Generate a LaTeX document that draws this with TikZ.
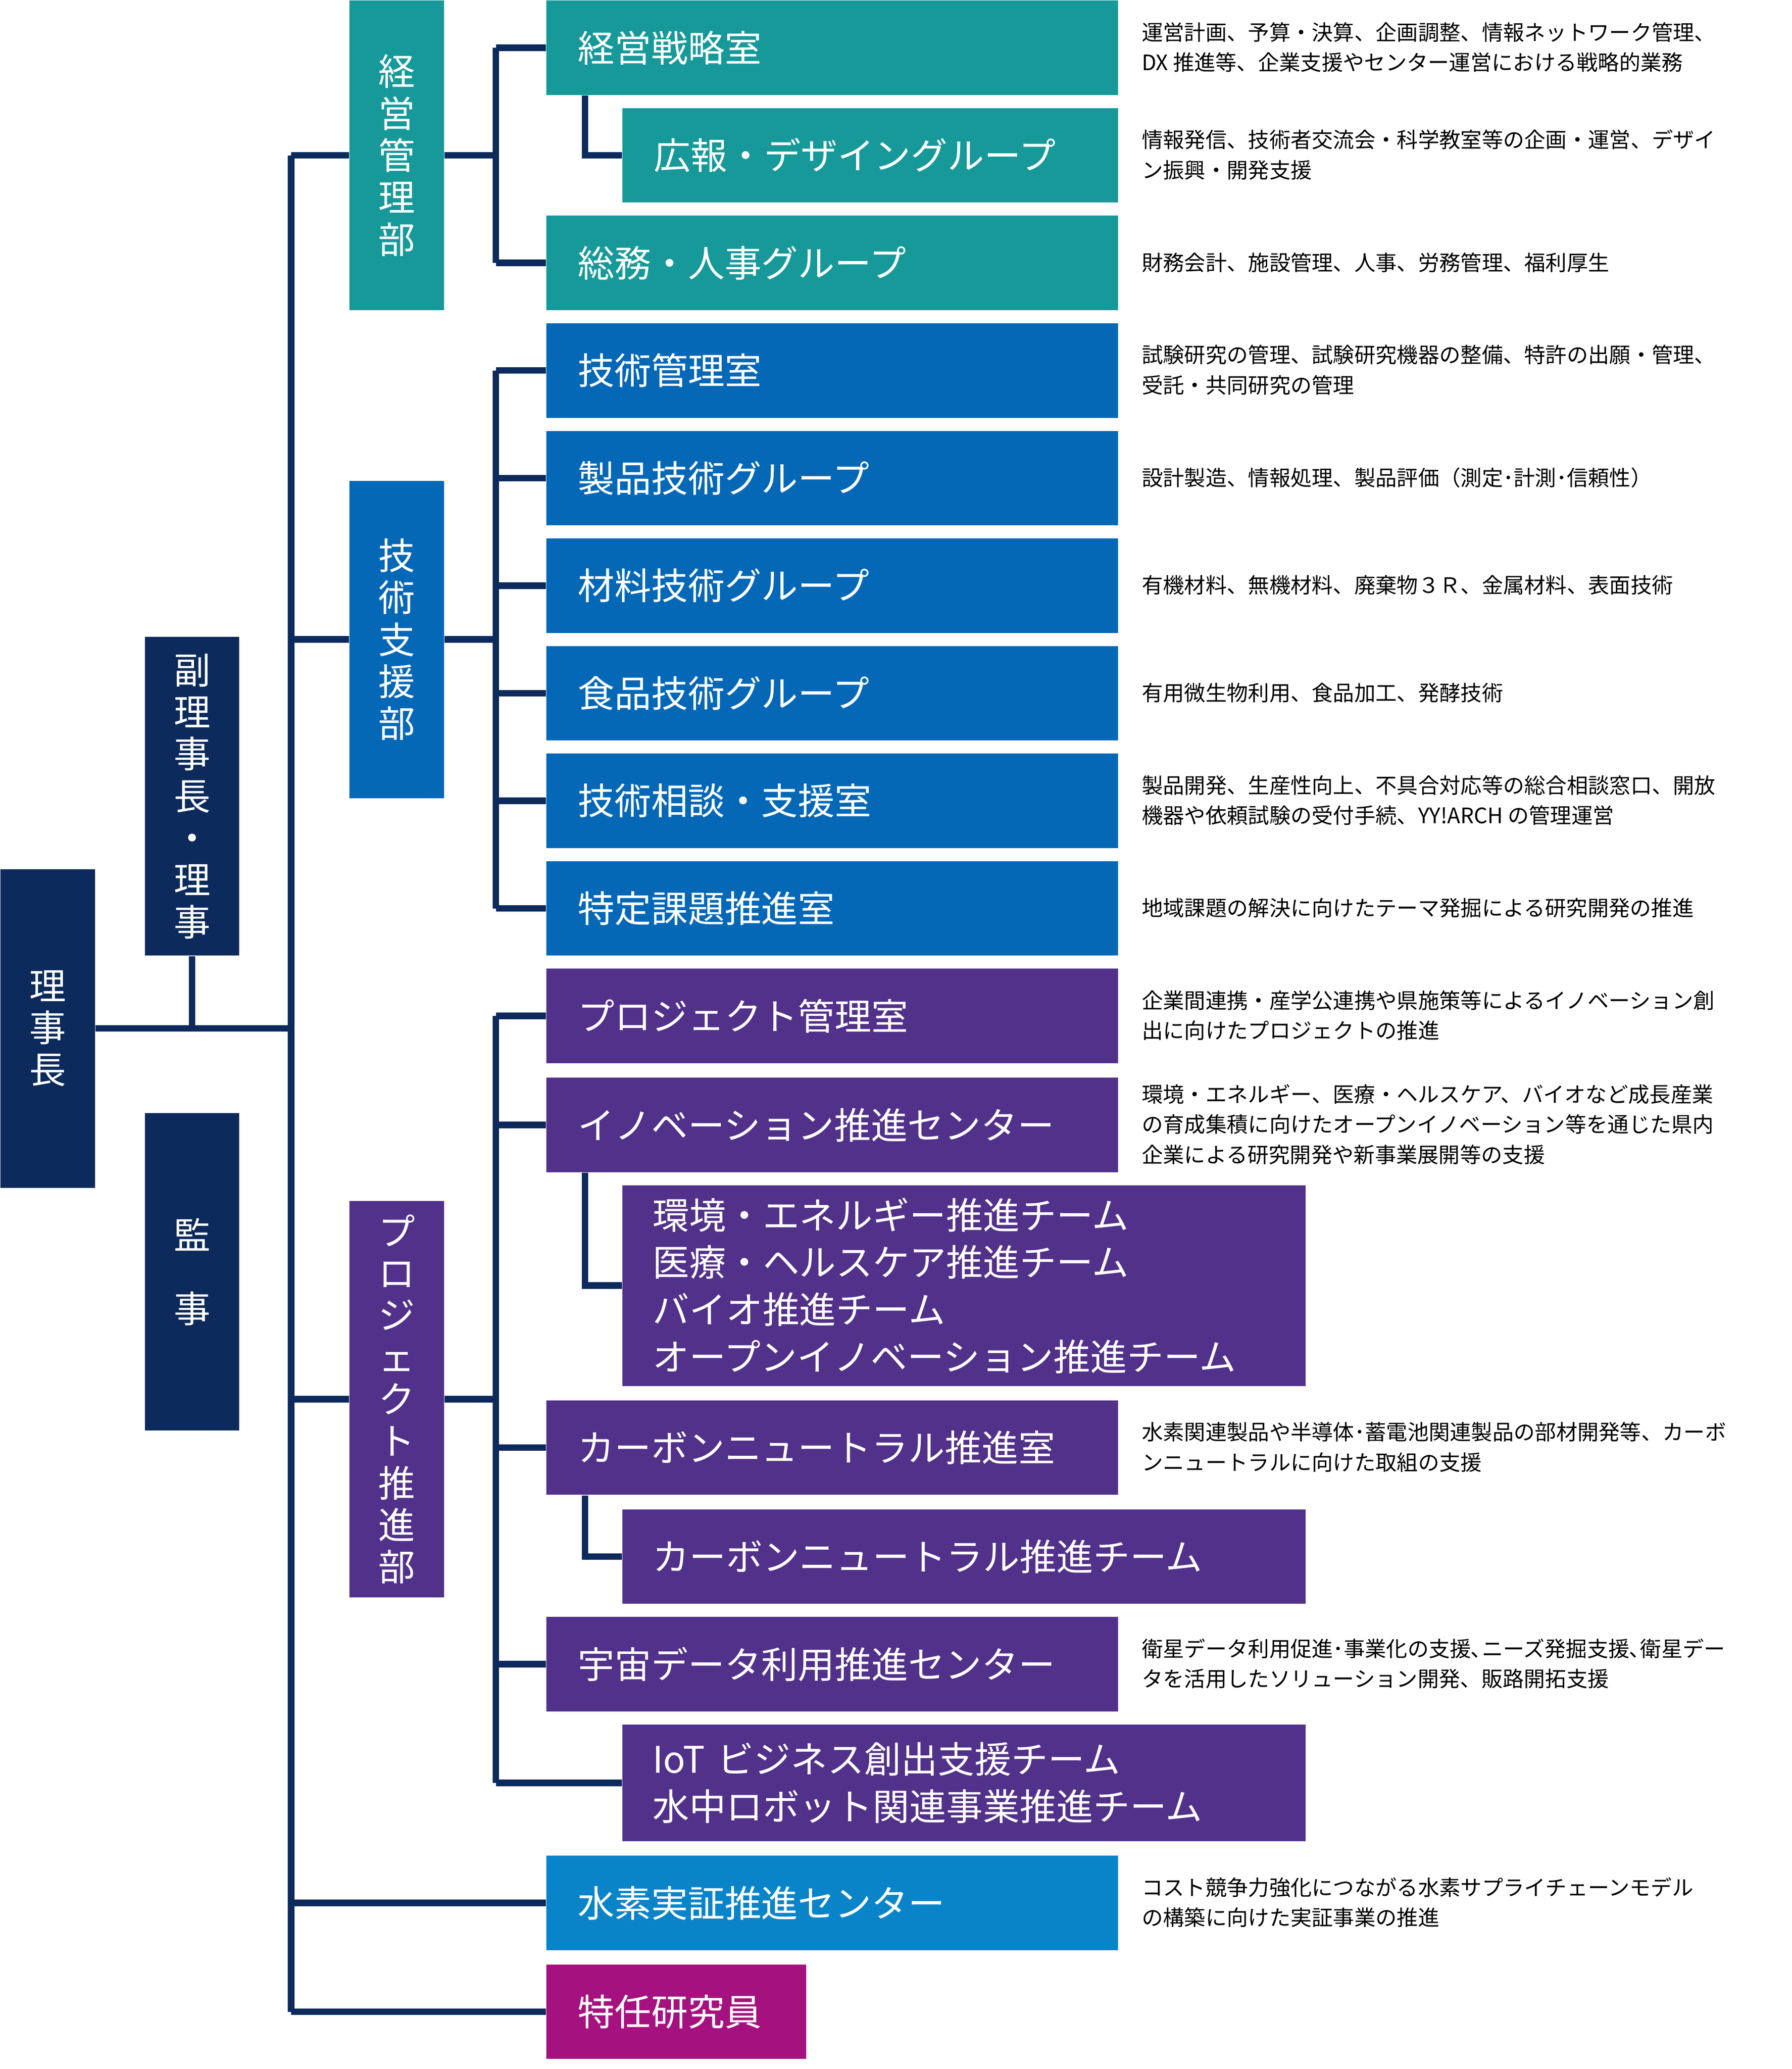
\documentclass[tikz,border=0pt]{standalone}
\usepackage{fontspec}
\setmainfont{Noto Sans CJK JP}
\definecolor{navy}{HTML}{0C2A5B}
\definecolor{teal}{HTML}{17999A}
\definecolor{tblue}{HTML}{0568B7}
\definecolor{ppl}{HTML}{52318B}
\definecolor{lblue}{HTML}{0A84C9}
\definecolor{mag}{HTML}{A5127F}
\tikzset{
  conn/.style={navy, line width=2.5pt},
  head/.style={fill=navy, text=white, minimum width=36pt, inner sep=0pt,
    anchor=north west, align=center, font=\fontsize{14}{16}\selectfont},
  box/.style={text=white, anchor=north west, minimum height=36pt, inner xsep=12pt,
    inner ysep=0pt, align=left, text width=194pt, font=\fontsize{14}{18}\selectfont},
  sub/.style={box, text width=165pt},
  team/.style={box, text width=237.5pt, inner xsep=11.5pt},
  desc/.style={anchor=west, inner sep=0pt, align=left, font=\fontsize{8.1}{11.5}\selectfont}
}
\begin{document}
\begin{tikzpicture}[x=0.5pt, y=-0.5pt]
    \useasboundingbox (0,0) rectangle (1366,1577);
    % Heads
    \node[head, minimum height=121.5pt] (rj) at (0,662) {理\\事\\長};
    \node[head, minimum height=121.5pt] (fk) at (110,485) {副\\理\\事\\長\\・\\理\\事};
    \node[head, minimum height=121pt] (kj) at (110,848) {監\\[12pt]事};
    \node[head, fill=teal, minimum height=118pt] (bk) at (266,0) {経\\営\\管\\理\\部};
    \node[head, fill=tblue, minimum height=121pt] (bg) at (266,366) {技\\術\\支\\援\\部};
    \node[head, fill=ppl, minimum height=151pt] (bp) at (266,915) {プ\\ロ\\ジ\\ェ\\ク\\ト\\推\\進\\部};

    % Keiei
    \node[box, fill=teal] (k1) at (416,0) {経営戦略室};
    \node[sub, fill=teal] (k2) at (474,82) {広報・デザイングループ};
    \node[box, fill=teal] (k3) at (416,164) {総務・人事グループ};

    % Gijutsu
    \node[box, fill=tblue] (g1) at (416,246) {技術管理室};
    \node[box, fill=tblue] (g2) at (416,328) {製品技術グループ};
    \node[box, fill=tblue] (g3) at (416,410) {材料技術グループ};
    \node[box, fill=tblue] (g4) at (416,492) {食品技術グループ};
    \node[box, fill=tblue] (g5) at (416,574) {技術相談・支援室};
    \node[box, fill=tblue] (g6) at (416,656) {特定課題推進室};

    % Project
    \node[box, fill=ppl] (p1) at (416,738) {プロジェクト管理室};
    \node[box, fill=ppl] (p2) at (416,821) {イノベーション推進センター};
    \node[team, fill=ppl, minimum height=76.5pt] (p2t) at (474,903)
      {環境・エネルギー推進チーム\\医療・ヘルスケア推進チーム\\バイオ推進チーム\\オープンイノベーション推進チーム};
    \node[box, fill=ppl] (p3) at (416,1067) {カーボンニュートラル推進室};
    \node[team, fill=ppl] (p3t) at (474,1150) {カーボンニュートラル推進チーム};
    \node[box, fill=ppl] (p4) at (416,1232) {宇宙データ利用推進センター};
    \node[team, fill=ppl, minimum height=44.5pt] (p4t) at (474,1314)
      {IoT ビジネス創出支援チーム\\水中ロボット関連事業推進チーム};

    \node[box, fill=lblue] (sc) at (416,1414) {水素実証推進センター};
    \node[box, fill=mag, text width=75pt] (tn) at (416,1497) {特任研究員};

    % Connectors
    \coordinate (T) at (222,0);
    \coordinate (S) at (378,0);
    \coordinate (U) at (446,0);
    \draw[conn] (rj.east) -- (rj.east -| T);
    \draw[conn] (fk.south) -- (fk.south |- rj.east);
    \draw[conn] (bk.west -| T) -- (tn.west -| T);
    \foreach \n in {bk, bg, bp} \draw[conn] (\n.west -| T) -- (\n.west);
    \draw[conn] (sc.west -| T) -- (sc.west);
    \draw[conn] (tn.west -| T) -- (tn.west);
    % sub trunks
    \draw[conn] (k1.west -| S) -- (k3.west -| S);
    \draw[conn] (bk.east) -- (bk.east -| S);
    \draw[conn] (g1.west -| S) -- (g6.west -| S);
    \draw[conn] (bg.east) -- (bg.east -| S);
    \draw[conn] (p1.west -| S) -- (p4t.west -| S);
    \draw[conn] (bp.east) -- (bp.east -| S);
    \foreach \n in {k1, k3, g1, g2, g3, g4, g5, g6, p1, p2, p3, p4, p4t}
      \draw[conn] (\n.west -| S) -- (\n.west);
    \draw[conn] (k1.south -| U) -- (k2.west -| U) -- (k2.west);
    \draw[conn] (p2.south -| U) -- (p2t.west -| U) -- (p2t.west);
    \draw[conn] (p3.south -| U) -- (p3t.west -| U) -- (p3t.west);

    % Descriptions
    \node[desc] (dk1) at (870,36) {運営計画、予算・決算、企画調整、情報ネットワーク管理、\\DX 推進等、企業支援やセンター運営における戦略的業務};
    \node[desc] (dk2) at (870,118) {情報発信、技術者交流会・科学教室等の企画・運営、デザイ\\ン振興・開発支援};
    \node[desc] (dk3) at (870,200) {財務会計、施設管理、人事、労務管理、福利厚生};
    \node[desc] (dg1) at (870,282) {試験研究の管理、試験研究機器の整備、特許の出願・管理、\\受託・共同研究の管理};
    \node[desc] (dg2) at (870,364) {設計製造、情報処理、製品評価（測定･計測･信頼性）};
    \node[desc] (dg3) at (870,446) {有機材料、無機材料、廃棄物３Ｒ、金属材料、表面技術};
    \node[desc] (dg4) at (870,528) {有用微生物利用、食品加工、発酵技術};
    \node[desc] (dg5) at (870,610) {製品開発、生産性向上、不具合対応等の総合相談窓口、開放\\機器や依頼試験の受付手続、YY!ARCH の管理運営};
    \node[desc] (dg6) at (870,692) {地域課題の解決に向けたテーマ発掘による研究開発の推進};
    \node[desc] (dp1) at (870,774) {企業間連携・産学公連携や県施策等によるイノベーション創\\出に向けたプロジェクトの推進};
    \node[desc] (dp2) at (870,857) {環境・エネルギー、医療・ヘルスケア、バイオなど成長産業\\の育成集積に向けたオープンイノベーション等を通じた県内\\企業による研究開発や新事業展開等の支援};
    \node[desc] (dp3) at (870,1103) {水素関連製品や半導体･蓄電池関連製品の部材開発等、カーボ\\ンニュートラルに向けた取組の支援};
    \node[desc] (dp4) at (870,1268) {衛星データ利用促進･事業化の支援､ニーズ発掘支援､衛星デー\\タを活用したソリューション開発、販路開拓支援};
    \node[desc] (dsc) at (870,1450) {コスト競争力強化につながる水素サプライチェーンモデル\\の構築に向けた実証事業の推進};
\end{tikzpicture}
\end{document}
